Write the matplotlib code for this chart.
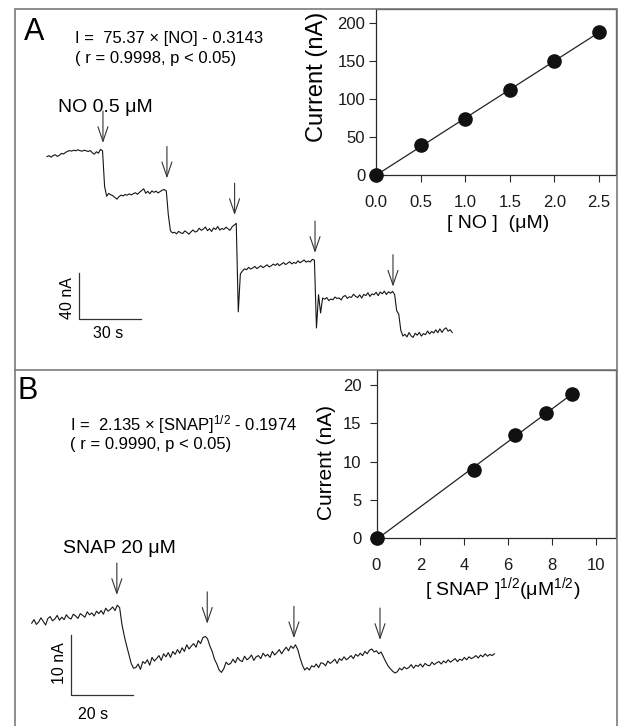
import numpy as np
import matplotlib
matplotlib.use("Agg")
import matplotlib.pyplot as plt
from matplotlib.patches import Rectangle
from matplotlib.lines import Line2D

plt.rcParams.update({
    "font.family": ["Liberation Sans", "DejaVu Sans"],
    "mathtext.fontset": "custom",
    "mathtext.rm": "Liberation Sans",
    "mathtext.it": "Liberation Sans:italic",
    "mathtext.bf": "Liberation Sans:bold",
})

# ---------------- data ----------------
no_conc = [0.0, 0.5, 1.0, 1.5, 2.0, 2.5]
no_current = [0.0, 39.4, 73.5, 111.5, 150.0, 189.0]
no_fit = (75.37, -0.3143)
no_xticks = [0.0, 0.5, 1.0, 1.5, 2.0, 2.5]
no_yticks = [0, 50, 100, 150, 200]

snap_sqrt = [0.0, 4.47, 6.32, 7.75, 8.94]
snap_current = [0.0, 8.87, 13.46, 16.43, 18.87]
snap_fit = (2.135, -0.1974)
snap_xticks = [0, 2, 4, 6, 8, 10]
snap_yticks = [0, 5, 10, 15, 20]

# amperometric trace A (sampled every 1 s, nA)
trace_a_dt = 1.0
trace_a = [
    -4.0, -3.2, -4.5, -3.0, -2.4, -3.8, -2.9, -1.2, -1.8, -0.4, 0.6, 1.2, 0.8, 1.6,
    1.0, 1.9, 1.2, 0.7, 1.5, 1.1, 0.4, 1.3, -0.6, -1.9, 0.2, -1.0, 2.3, 1.0,
    -30.0,
    -38.5, -36.0, -37.2, -38.0, -39.5, -41.0, -38.8, -37.5, -38.2, -36.9, -37.6, -36.4,
    -37.3, -36.2, -35.4, -36.8, -35.0, -33.5, -32.0, -35.9, -34.2, -36.3, -33.8, -35.1,
    -34.0, -35.6, -34.4, -33.2, -32.6, -33.9,
    -55.0,
    -68.5, -70.4, -69.8, -71.2, -69.0, -70.3, -70.9, -68.6, -69.9, -71.5, -69.4, -67.8,
    -69.6, -68.9, -66.3, -68.1, -67.0, -65.2, -68.4, -66.7, -69.1, -66.0, -67.4, -64.8,
    -67.9, -66.5, -67.3, -65.4, -66.8, -68.1, -65.0, -63.6, -62.0,
    -139.0,
    -106.0, -103.5, -101.6, -102.4, -100.3, -101.8, -100.9, -99.5, -101.4, -100.2, -98.9,
    -100.6, -99.3, -98.1, -99.9, -99.0, -97.5, -98.6, -97.0, -98.8, -97.4, -96.2, -97.9,
    -96.7, -95.4, -97.3, -96.0, -96.9, -94.6, -96.3, -95.2, -93.9, -95.8, -94.8, -95.6,
    -93.3, -94.1,
    -153.0, -124.0, -140.0, -127.0,
    -128.0, -126.6, -129.2, -127.8, -128.5, -126.1, -127.4, -126.9, -128.6, -125.7,
    -124.8, -127.3, -125.9, -126.4, -123.7, -125.5, -126.6, -124.2, -127.0, -123.8,
    -124.9, -122.4, -125.6, -123.4, -124.1, -122.0, -124.9, -121.8, -123.3, -121.0,
    -123.9, -121.6, -122.8, -121.2,
    -124.0, -138.0, -141.0, -155.0, -160.0,
    -158.5, -160.8, -157.0, -159.9, -161.2, -157.6, -159.3, -156.8, -160.1, -157.9,
    -158.8, -155.7, -158.2, -156.0, -157.4, -154.6, -157.1, -153.8, -156.9, -154.2,
    -152.9, -155.8, -154.5, -157.0,
]
arrows_a_t = [27.2, 58.3, 91.2, 130.3, 168.2]
arrows_a_tip = [7.8, -22.9, -54.8, -87.8, -117.1]

# amperometric trace B (sampled every 0.75 s, nA)
trace_b_dt = 0.75
trace_b = [
    -2.2, -1.6, -2.4, -2.0, -1.3, -1.9, -2.5, -1.4, -1.1, -1.8, -1.5, -0.9, -1.7, -1.2,
    -1.6, -0.8, -1.3, -1.5, -0.7, -1.0, -1.4, -0.6, -0.9, -1.2, -0.3, -0.8, -0.5, -1.0,
    -0.2, -0.6, -0.1, -0.7, 0.3, -0.2, 0.1, 0.5, -0.1, 0.8, 0.4,
    -2.4, -4.3, -5.9, -7.4, -8.9, -9.7,
    -9.6, -9.0, -9.9, -8.6, -8.9, -8.3, -9.2, -7.9, -8.5, -8.1, -7.6, -8.4, -7.3, -7.8,
    -7.1, -7.9, -6.9, -7.4, -6.6, -7.2, -6.3, -6.9, -5.8, -6.5, -6.0, -5.6, -6.2, -5.1,
    -5.6, -4.6, -4.4,
    -4.8, -6.0, -6.9, -8.2, -9.0, -10.0, -10.4,
    -9.8, -8.7, -9.1, -8.9, -8.2, -8.8, -7.9, -8.4, -8.6, -7.7, -8.3, -8.0, -7.5, -8.4,
    -7.8, -7.6, -8.1, -7.2, -7.7, -7.4, -7.9, -6.9, -7.5, -7.1, -6.6, -7.3, -6.7, -6.2,
    -6.8, -6.0, -6.4, -5.8,
    -6.6, -8.0, -9.2, -10.0,
    -9.6, -10.0, -9.3, -9.5, -9.0, -9.6, -8.8, -8.9, -9.3, -8.5, -8.9, -8.6, -8.2, -8.9,
    -8.1, -8.4, -7.8, -8.3, -8.0, -7.6, -8.1, -7.4, -7.7, -7.2, -7.6, -6.9, -7.3, -6.7,
    -6.5, -7.0, -6.8, -7.3, -7.0,
    -7.8, -8.6, -9.3, -9.8, -10.2, -10.5,
    -10.3, -9.7, -10.0, -9.5, -9.8, -9.6, -9.1, -9.7, -9.2, -9.4, -9.0, -9.5, -8.9, -9.2,
    -9.3, -8.7, -9.1, -8.8, -8.6, -9.0, -8.5, -8.8, -8.3, -8.7, -8.4, -8.1, -8.6, -8.2,
    -8.4, -7.9, -8.3, -7.8, -8.1, -7.9, -7.6, -8.0, -7.5, -7.8, -7.3, -7.7, -7.4, -7.6,
    -7.3,
]
arrows_b_t = [27.6, 56.9, 85.0, 112.9]
arrows_b_tip = [2.5, -2.3, -4.7, -5.0]

# ---------------- figure ----------------
W, H = 620, 726
fig = plt.figure(figsize=(W / 100, H / 100), dpi=100)


def rect(x0, y0, x1, y1):
    """pixel box (top-left origin) -> figure fraction rect"""
    return [x0 / W, 1 - y1 / H, (x1 - x0) / W, (y1 - y0) / H]


FRAME_L, FRAME_T, FRAME_R, DIV = 15, 9, 617, 370
frame_col = "#7a7a7a"
fig.patches.append(Rectangle((FRAME_L / W, -0.01), (FRAME_R - FRAME_L) / W, 1.01 - FRAME_T / H,
                             transform=fig.transFigure, fill=False, ec=frame_col, lw=1.2, zorder=0))
fig.add_artist(Line2D([FRAME_L / W, FRAME_R / W], [1 - DIV / H, 1 - DIV / H],
                      transform=fig.transFigure, color=frame_col, lw=1.2))

TR_COL = "#151515"
ARW = dict(arrowstyle="->,head_length=1.05,head_width=0.36", lw=0.8, color="#333333",
           shrinkA=0, shrinkB=0, mutation_scale=10)

# ----- trace A -----
axA = fig.add_axes(rect(FRAME_L, FRAME_T, FRAME_R, DIV))
axA.set_axis_off()
ta0, pxs_a, ya0, pyn_a = 47.0, 2.057, 152.0, 1.15
axA.set_xlim((FRAME_L - ta0) / pxs_a, (FRAME_R - ta0) / pxs_a)
axA.set_ylim((ya0 - DIV) / pyn_a, (ya0 - FRAME_T) / pyn_a)
tA = np.arange(len(trace_a)) * trace_a_dt
axA.plot(tA, trace_a, color=TR_COL, lw=0.8)
for t, y in zip(arrows_a_t, arrows_a_tip):
    axA.annotate("", xy=(t, y), xytext=(0, 23), textcoords="offset points", arrowprops=ARW)
# scale bar A: 30 s, 40 nA
sbA = (15.5, -145.5)
axA.plot([sbA[0], sbA[0], sbA[0] + 30], [sbA[1] + 40, sbA[1], sbA[1]], color="#333333", lw=0.9)
axA.text(sbA[0] - 5.3, sbA[1] + 18.5, "40 nA", rotation=90, ha="center", va="center", fontsize=11.5)
axA.text(sbA[0] + 14.2, sbA[1] - 12.0, "30 s", ha="center", va="center", fontsize=11.5)

# ----- trace B -----
axB = fig.add_axes(rect(FRAME_L, DIV, FRAME_R, H))
axB.set_axis_off()
tb0, pxs_b, yb0, pyn_b = 31.7, 3.085, 610.0, 6.0
axB.set_xlim((FRAME_L - tb0) / pxs_b, (FRAME_R - tb0) / pxs_b)
axB.set_ylim((yb0 - H) / pyn_b, (yb0 - DIV) / pyn_b)
tB = np.arange(len(trace_b)) * trace_b_dt
axB.plot(tB, trace_b, color=TR_COL, lw=0.8)
for t, y in zip(arrows_b_t, arrows_b_tip):
    axB.annotate("", xy=(t, y), xytext=(0, 23), textcoords="offset points", arrowprops=ARW)
sbB = (12.74, -14.17)
axB.plot([sbB[0], sbB[0], sbB[0] + 20], [sbB[1] + 10, sbB[1], sbB[1]], color="#333333", lw=0.9)
axB.text(sbB[0] - 3.6, sbB[1] + 5.3, "10 nA", rotation=90, ha="center", va="center", fontsize=11.5)
axB.text(sbB[0] + 7.2, sbB[1] - 3.3, "20 s", ha="center", va="center", fontsize=11.5)

# ----- texts -----
def ftext(x, y, s, **kw):
    fig.text(x / W, 1 - y / H, s, va="baseline", ha="left", **kw)

ftext(24, 40, "A", fontsize=22)
ftext(75, 43.5, "I =  75.37 × [NO] - 0.3143", fontsize=12)
ftext(75, 63.3, "( r = 0.9998, p < 0.05)", fontsize=12)
ftext(58, 111.7, "NO 0.5 μM", fontsize=14)
ftext(17, 399.3, "B", fontsize=22)
ftext(70, 430, "I =  2.135 × [SNAP]$^{1/2}$ - 0.1974", fontsize=12)
ftext(70, 449, "( r = 0.9990, p < 0.05)", fontsize=12)
ftext(63, 552.7, "SNAP 20 μM", fontsize=14)

# ----- calibration insets -----
def style_inset(ax, ypad):
    for s in ax.spines.values():
        s.set_color("#2a2a2a")
        s.set_linewidth(0.9)
    ax.tick_params(direction="out", length=5.2, width=0.8, color="#2a2a2a",
                   labelsize=12, labelcolor="#1a1a1a")
    ax.tick_params(axis="x", pad=9.0)
    ax.tick_params(axis="y", pad=ypad)

insA = fig.add_axes(rect(376, FRAME_T, 616, 175))
insA.set_xlim(0, 2.69)
insA.set_ylim(0, 219)
fitx = np.array([no_conc[0], no_conc[-1]])
insA.plot(fitx, no_fit[0] * fitx + no_fit[1], color="#222222", lw=0.9, clip_on=False)
insA.plot(no_conc, no_current, "o", color="#111111", ms=9.5, clip_on=False, zorder=5)
insA.set_xticks(no_xticks)
insA.set_xticklabels([f"{v:.1f}" for v in no_xticks])
insA.set_yticks(no_yticks)
style_inset(insA, 2.5)
insA.set_xlabel("[ NO ]  (μM)", fontsize=14, va="baseline")
insA.xaxis.set_label_coords(0.508, -0.319)
insA.set_ylabel("Current (nA)", fontsize=17, va="center")
insA.yaxis.set_label_coords(-0.244, 0.594)

insB = fig.add_axes(rect(376.5, DIV, 616, 538))
insB.set_xlim(0, 10.93)
insB.set_ylim(0, 22)
fitx = np.array([snap_sqrt[0], snap_sqrt[-1]])
insB.plot(fitx, snap_fit[0] * fitx + snap_fit[1], color="#222222", lw=0.9, clip_on=False)
insB.plot(snap_sqrt, snap_current, "o", color="#111111", ms=9.5, clip_on=False, zorder=5)
insB.set_xticks(snap_xticks)
insB.set_yticks(snap_yticks)
style_inset(insB, 5.5)
insB.set_xlabel("[ SNAP ]$^{1/2}$(μM$^{1/2}$)", fontsize=14, va="baseline")
insB.xaxis.set_label_coords(0.526, -0.339)
insB.set_ylabel("Current (nA)", fontsize=15, va="center")
insB.yaxis.set_label_coords(-0.208, 0.449)

fig.savefig("out.png", dpi=100)
